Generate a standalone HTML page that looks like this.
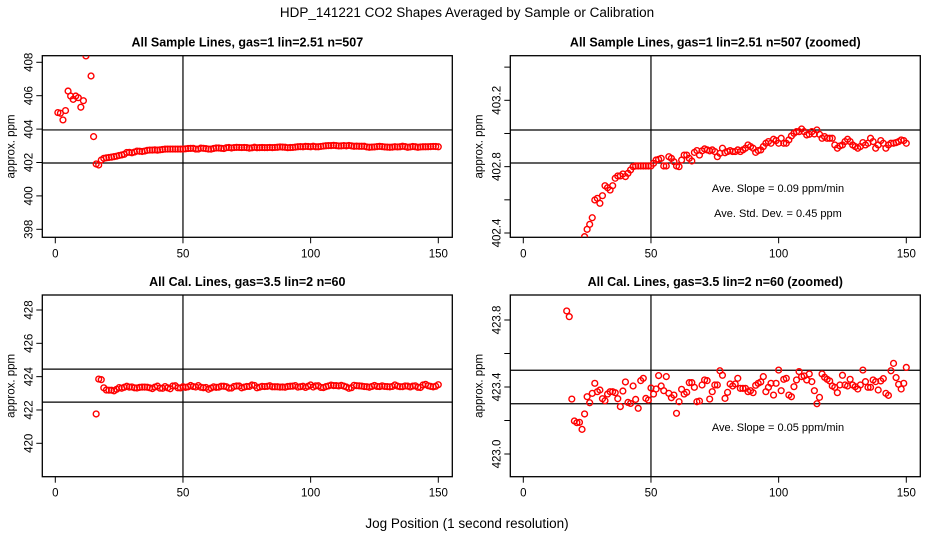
<!DOCTYPE html>
<html><head><meta charset="utf-8"><style>
html,body{margin:0;padding:0;background:#fff;width:936px;height:540px;overflow:hidden;position:relative;}
svg{display:block;position:absolute;left:0;top:0;font-family:"Liberation Sans",sans-serif;}
</style></head><body>
<svg id="chart" width="936" height="540" viewBox="0 0 936 540" xmlns="http://www.w3.org/2000/svg" overflow="hidden">
<rect x="0" y="0" width="936" height="540" fill="#fff"/>
<text x="467" y="17" font-size="13.5" text-anchor="middle">HDP_141221  CO2 Shapes Averaged by Sample or Calibration</text>
<text x="467" y="528" font-size="13.5" text-anchor="middle">Jog Position (1 second resolution)</text>
</svg>
<script>
const sampleStartX = 1;
const sampleValues = [404.99,404.95,404.55,405.11,406.28,405.98,405.78,405.98,405.88,405.31,405.70,408.38,409.5,407.18,403.55,401.91,401.85,402.15,402.25,402.28,402.30,402.32,402.35,402.378,402.422,402.452,402.492,402.599,402.609,402.579,402.625,402.685,402.673,402.659,402.685,402.730,402.744,402.744,402.756,402.740,402.760,402.780,402.800,402.804,402.804,402.804,402.804,402.804,402.804,402.804,402.820,402.840,402.844,402.850,402.804,402.804,402.860,402.850,402.830,402.804,402.800,402.840,402.870,402.870,402.850,402.834,402.886,402.897,402.870,402.895,402.907,402.901,402.895,402.901,402.891,402.860,402.880,402.911,402.884,402.891,402.897,402.891,402.891,402.901,402.891,402.901,402.911,402.931,402.921,402.911,402.886,402.897,402.901,402.921,402.941,402.951,402.941,402.965,402.957,402.941,402.971,402.941,402.941,402.961,402.985,403.001,403.011,403.011,403.027,403.011,402.991,402.995,403.011,402.997,403.021,402.995,402.971,402.981,402.971,402.971,402.971,402.931,402.911,402.925,402.931,402.951,402.965,402.951,402.931,402.921,402.911,402.921,402.945,402.931,402.941,402.971,402.951,402.911,402.931,402.957,402.941,402.911,402.931,402.941,402.941,402.945,402.951,402.961,402.957,402.941];
const calStartX = 16;
const calValues = [421.76,423.854,423.82,423.328,423.197,423.187,423.189,423.147,423.239,423.342,423.306,423.362,423.422,423.372,423.382,423.330,423.318,423.358,423.372,423.372,423.366,423.330,423.283,423.376,423.430,423.308,423.302,423.406,423.326,423.273,423.438,423.452,423.332,423.322,423.394,423.358,423.388,423.468,423.406,423.378,423.462,423.362,423.336,423.352,423.243,423.312,423.386,423.358,423.368,423.426,423.426,423.398,423.312,423.316,423.412,423.442,423.438,423.328,423.372,423.412,423.412,423.497,423.470,423.332,423.368,423.418,423.406,423.418,423.452,423.392,423.392,423.392,423.372,423.378,423.366,423.410,423.422,423.430,423.462,423.372,423.398,423.422,423.352,423.422,423.501,423.378,423.446,423.452,423.352,423.342,423.402,423.442,423.492,423.462,423.466,423.442,423.478,423.432,423.378,423.300,423.338,423.478,423.458,423.446,423.436,423.406,423.398,423.366,423.412,423.470,423.412,423.406,423.446,423.412,423.402,423.388,423.412,423.501,423.432,423.398,423.398,423.442,423.432,423.382,423.436,423.450,423.362,423.350,423.497,423.541,423.456,423.416,423.388,423.422,423.517];
const xTicks = [0,50,100,150];
const p1Ticks = [398,400,402,404,406,408];
const p2Ticks = [402.4,402.6,402.8,403.0,403.2,403.4];
const p2Labels = ["402.4","","402.8","","403.2",""];
const p3Ticks = [420,422,424,426,428];
const p4Ticks = [423.0,423.2,423.4,423.6,423.8];
const p4Labels = ["423.0","","423.4","","423.8"];
const p1HLines = [403.95,401.97];
const p2HLines = [403.021,402.822];
const p3HLines = [424.45,422.47];
const p4HLines = [423.50,423.30];
const vLineX = 50;

const NS = "http://www.w3.org/2000/svg";
const svg = document.getElementById('chart');
function mk(tag, attrs, parent){
  const e = document.createElementNS(NS, tag);
  for (const k in attrs) e.setAttribute(k, attrs[k]);
  (parent||svg).appendChild(e);
  return e;
}
let clipId = 0;
function panel(cfg){
  const g = mk('g', {});
  
  
  const xs = v => cfg.x0 + (v - 0) * (cfg.x150 - cfg.x0) / 150;
  const ys = v => cfg.yA + (v - cfg.vA) * (cfg.yB - cfg.yA) / (cfg.vB - cfg.vA);
  const box = mk('rect', {x:cfg.L, y:cfg.T, width:cfg.R-cfg.L, height:cfg.B-cfg.T, fill:'none', stroke:'#000', 'stroke-width':1.3}, g);
  
  
  const t = mk('text', {x:(cfg.L+cfg.R)/2, y:cfg.T-9, 'font-size':12.5, 'font-weight':'bold', 'text-anchor':'middle'}, g);
  t.textContent = cfg.title;
  
  
  const yl = mk('text', {x:0, y:0, 'font-size':11.5, 'text-anchor':'middle', transform:`translate(${cfg.L-28},${(cfg.T+cfg.B)/2}) rotate(-90)`}, g);
  yl.textContent = 'approx. ppm';
  
  
  xTicks.forEach(v => {
    const X = xs(v);
    const tk = mk('line', {x1:X, x2:X, y1:cfg.B, y2:cfg.B+6, stroke:'#000', 'stroke-width':1}, g);
    
    
    const tl = mk('text', {x:X, y:cfg.B+20, 'font-size':11.5, 'text-anchor':'middle'}, g);
    tl.textContent = String(v);
    
    
  });
  cfg.yTicks.forEach((v, i) => {
    const Y = ys(v);
    const tk = mk('line', {x1:cfg.L-6, x2:cfg.L, y1:Y, y2:Y, stroke:'#000', 'stroke-width':1}, g);
    
    
    const lab = cfg.yLabels ? cfg.yLabels[i] : String(v);
    if (lab) {
      const tl = mk('text', {x:0, y:0, 'font-size':11.5, 'text-anchor':'middle', transform:`translate(${cfg.L-10},${Y}) rotate(-90)`}, g);
      tl.textContent = lab;
      
      
    }
  });
  const cid = 'clip' + (clipId++);
  const defs = mk('defs', {}, g);
  const cp = mk('clipPath', {id:cid}, defs);
  mk('rect', {x:cfg.L, y:cfg.T, width:cfg.R-cfg.L, height:cfg.B-cfg.T}, cp);
  cfg.hLines.forEach(v => {
    const l = mk('line', {x1:cfg.L, x2:cfg.R, y1:ys(v), y2:ys(v), stroke:'#000', 'stroke-width':1.2}, g);
    
    
  });
  const vl = mk('line', {x1:xs(vLineX), x2:xs(vLineX), y1:cfg.T, y2:cfg.B, stroke:'#000', 'stroke-width':1.2}, g);
  
  
  const pg = mk('g', {'clip-path':`url(#${cid})`}, g);
  
  
  cfg.values.forEach((v, i) => {
    if (v == null) return;
    const c = mk('circle', {cx:xs(cfg.startX + i), cy:ys(v), r:2.9, fill:'none', stroke:'#f00', 'stroke-width':1.4}, pg);
    
    
  });
  (cfg.notes||[]).forEach(n => {
    const tx = mk('text', {x:778, y:n.y, 'font-size':11, 'text-anchor':'middle'}, g);
    tx.textContent = n.text;
    
    
  });
}
panel({name:'panel-sample', title:'All Sample Lines, gas=1 lin=2.51 n=507', L:42.3, R:452.3, T:55.7, B:237.3, x0:55.3, x150:438.3,
  vA:398, yA:229.3, vB:408, yB:62.3, yTicks:p1Ticks, hLines:p1HLines, values:sampleValues, startX:sampleStartX});
panel({name:'panel-sample-zoomed', title:'All Sample Lines, gas=1 lin=2.51 n=507 (zoomed)', L:510.3, R:920.3, T:55.7, B:237.3, x0:523.3, x150:906.3,
  vA:402.4, yA:233, vB:403.2, yB:100.3, yTicks:p2Ticks, yLabels:p2Labels, hLines:p2HLines, values:sampleValues, startX:sampleStartX,
  notes:[{y:192,text:'Ave. Slope =  0.09  ppm/min'},{y:217,text:'Ave. Std. Dev. =  0.45  ppm'}]});
panel({name:'panel-cal', title:'All Cal. Lines, gas=3.5 lin=2 n=60', L:42.3, R:452.3, T:295, B:476.7, x0:55.3, x150:438.3,
  vA:420, yA:443.3, vB:428, yB:310, yTicks:p3Ticks, hLines:p3HLines, values:calValues, startX:calStartX});
panel({name:'panel-cal-zoomed', title:'All Cal. Lines, gas=3.5 lin=2 n=60 (zoomed)', L:510.3, R:920.3, T:295, B:476.7, x0:523.3, x150:906.3,
  vA:423.0, yA:454, vB:423.8, yB:320, yTicks:p4Ticks, yLabels:p4Labels, hLines:p4HLines, values:calValues, startX:calStartX,
  notes:[{y:431,text:'Ave. Slope =  0.05  ppm/min'}]});
</script>
</body></html>
